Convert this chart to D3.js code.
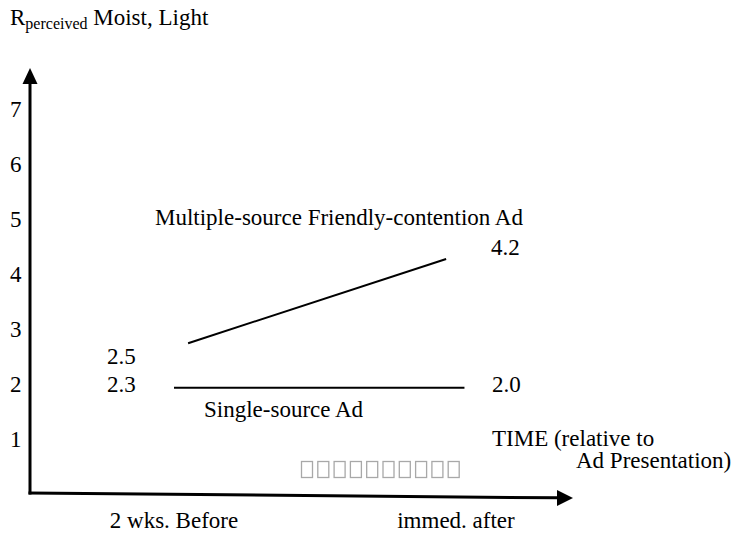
<!DOCTYPE html>
<html>
<head>
<meta charset="utf-8">
<script src="https://cdn.jsdelivr.net/npm/d3@7"></script>
<style>
  html, body { margin: 0; padding: 0; background: #fff; }
  svg { display: block; }
</style>
</head>
<body>
<script>
// ---------- data ----------
const yTicks = [1, 2, 3, 4, 5, 6, 7];
const timeLabels = ["2 wks. Before", "immed. after"];
const timePos = [0, 1];
// line endpoints (time position, perceived value)
const multipleX = [0.05, 0.965];
const multipleY = [2.76, 4.29];
const singleX = [0.0, 1.03];
const singleY = [1.95, 1.95];
const multipleName = "Multiple-source Friendly-contention Ad";
const singleName = "Single-source Ad";
const multipleValues = ["2.5", "4.2"];
const singleValues = ["2.3", "2.0"];
const missingGlyphCount = 10;

// ---------- setup ----------
const SERIF = "Liberation Serif";
const FS = 23;
const W = 749, H = 533;
const svg = d3.select("body").append("svg").attr("width", W).attr("height", H);
const x = d3.scaleLinear().domain([0, 1]).range([174, 456]);
const y = d3.scaleLinear().domain([0, 7]).range([495, 110]);

function label(txt, px, py, anchor = "start") {
  return svg.append("text")
    .attr("x", px).attr("y", py)
    .attr("font-size", FS)
    .style("font-family", SERIF)
    .attr("text-anchor", anchor)
    .attr("fill", "#000")
    .text(txt);
}

// ---------- axes ----------
const axX = 30;
const yBase = y(0) - 2;
const yTop = 68;
svg.append("line").attr("x1", axX).attr("y1", yBase + 1.5).attr("x2", axX).attr("y2", yTop + 14)
  .attr("stroke", "#000").attr("stroke-width", 3);
svg.append("path").attr("d", `M${axX},${yTop} L${axX - 7.5},${yTop + 16} L${axX + 7.5},${yTop + 16} Z`).attr("fill", "#000");

const xEnd = 573, tilt = 5;
svg.append("line").attr("x1", axX - 1.5).attr("y1", yBase).attr("x2", xEnd - 14).attr("y2", yBase + tilt * (xEnd - 14 - axX) / (xEnd - axX))
  .attr("stroke", "#000").attr("stroke-width", 3);
svg.append("path").attr("d", `M${xEnd},${yBase + tilt} L${xEnd - 16},${yBase + tilt - 8} L${xEnd - 16},${yBase + tilt + 8} Z`).attr("fill", "#000");

// y tick labels
yTicks.forEach(v => label(String(v), 10, y(v) + 7));

// x category labels
timeLabels.forEach((t, i) => label(t, x(timePos[i]), 528, "middle"));

// ---------- data lines ----------
const lineGen = d3.line().x(d => x(d[0])).y(d => y(d[1]));
svg.append("path").datum(d3.zip(multipleX, multipleY)).attr("d", lineGen)
  .attr("fill", "none").attr("stroke", "#000").attr("stroke-width", 2);
svg.append("path").datum(d3.zip(singleX, singleY)).attr("d", lineGen)
  .attr("fill", "none").attr("stroke", "#000").attr("stroke-width", 2);

// ---------- annotations ----------
label(multipleName, 155, 225);
label(multipleValues[0], 107, 364);
label(multipleValues[1], 491, 255);
label(singleValues[0], 107, 392);
label(singleValues[1], 492, 392);
label(singleName, 204, 417);

label("TIME (relative to", 492, 446);
label("Ad Presentation)", 576, 468);

// missing-glyph boxes of the reference, drawn as outlines
svg.selectAll("rect.tofu").data(d3.range(missingGlyphCount)).join("rect")
  .attr("class", "tofu")
  .attr("x", i => 301.5 + i * 16.3).attr("y", 461.5)
  .attr("width", 11).attr("height", 16)
  .attr("fill", "none").attr("stroke", "#a8a8a8").attr("stroke-width", 1.3);

// title
const title = svg.append("text").attr("x", 10).attr("y", 25)
  .attr("font-size", FS).style("font-family", SERIF);
title.append("tspan").text("R");
title.append("tspan").attr("font-size", 16).attr("dy", 4).text("perceived");
title.append("tspan").attr("dy", -4).text(" Moist, Light");
</script>
</body>
</html>
